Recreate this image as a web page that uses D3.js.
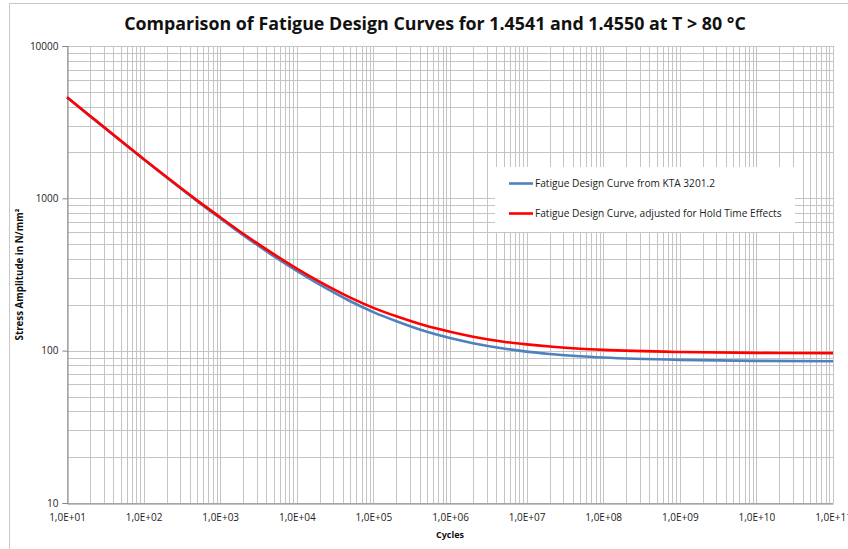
<!DOCTYPE html>
<html>
<head>
<meta charset="utf-8">
<script src="https://d3js.org/d3.v7.min.js"></script>
<style>
  body { margin: 0; background: #fff; }
  svg { display: block; font-family: "Open Sans", sans-serif; }
</style>
</head>
<body>
<div id="chart"></div>
<script>
  // values (cycles -> stress amplitude in N/mm²)
  const cycles = [1e1, 2e1, 5e1, 1e2, 2e2, 5e2, 1e3, 2e3, 5e3, 1e4, 2e4, 5e4, 1e5, 2e5, 5e5, 1e6, 2e6, 5e6, 1e7, 2e7, 5e7, 1e8, 1e9, 1e10, 1e11];
  const ktaCurve = [4600, 3465, 2385, 1803, 1369, 959, 740, 573, 417, 334, 271, 211, 179, 156, 133, 121, 112, 103.3, 98.6, 95.2, 91.9, 90.2, 87, 85.7, 85.3];
  const holdTimeCurve = [4611, 3476, 2396, 1814, 1380, 970, 752, 585, 430, 346, 283, 223, 191, 168, 145, 133, 123.5, 114.5, 110, 106.5, 103, 101.2, 98, 96.7, 96.3];

  const xTicks = [1e1, 1e2, 1e3, 1e4, 1e5, 1e6, 1e7, 1e8, 1e9, 1e10, 1e11];
  const xTickLabels = ["1,0E+01", "1,0E+02", "1,0E+03", "1,0E+04", "1,0E+05", "1,0E+06", "1,0E+07", "1,0E+08", "1,0E+09", "1,0E+10", "1,0E+11"];
  const yTicks = [10, 100, 1000, 10000];
  const seriesNames = ["Fatigue Design Curve from KTA 3201.2", "Fatigue Design Curve, adjusted for Hold Time Effects"];
  const seriesColors = ["#4f81bd", "#ff0000"];

  const width = 848, height = 549;

  const svg = d3.select("#chart").append("svg")
    .attr("width", width)
    .attr("height", height);

  // chart area border (runs off the right/bottom edge like the original)
  svg.append("rect")
    .attr("x", 9.5).attr("y", 3.5)
    .attr("width", 900).attr("height", 600)
    .attr("fill", "#fff")
    .attr("stroke", "#c8c8c8");

  const x = d3.scaleLog().domain([1e1, 1e11]).range([67, 833]);
  const y = d3.scaleLog().domain([10, 10000]).range([503, 46]);

  // grid lines (major + minor 2..9 per decade)
  const xGrid = [], yGrid = [];
  for (let e = 1; e <= 11; e++) {
    for (let m = 1; m <= 9; m++) {
      const v = m * Math.pow(10, e);
      if (v <= 1e11) xGrid.push(v);
    }
  }
  for (let e = 1; e <= 4; e++) {
    for (let m = 1; m <= 9; m++) {
      const v = m * Math.pow(10, e);
      if (v <= 10000) yGrid.push(v);
    }
  }

  const grid = svg.append("g").attr("shape-rendering", "crispEdges");
  grid.selectAll("line.gx").data(xGrid).enter().append("line")
    .attr("x1", d => Math.round(x(d)) + 0.5).attr("x2", d => Math.round(x(d)) + 0.5)
    .attr("y1", y(10000)).attr("y2", y(10))
    .attr("stroke", "#c4c4c4");
  grid.selectAll("line.gy").data(yGrid).enter().append("line")
    .attr("y1", d => Math.round(y(d)) + 0.5).attr("y2", d => Math.round(y(d)) + 0.5)
    .attr("x1", x(1e1)).attr("x2", x(1e11))
    .attr("stroke", "#c4c4c4");

  // axes
  const yAxis = svg.append("g")
    .attr("transform", `translate(${Math.round(x(1e1)) + 0.5},0)`)
    .call(d3.axisLeft(y).tickValues(yTicks).tickFormat(d3.format("d")).tickSize(5).tickPadding(4));
  yAxis.select(".domain").attr("stroke", "#868686");
  yAxis.selectAll(".tick line").attr("stroke", "#868686");
  yAxis.selectAll("text").attr("font-size", 10).attr("fill", "#222").attr("font-family", "Open Sans");

  const xAxis = svg.append("g")
    .attr("transform", `translate(0,${Math.round(y(10)) + 0.5})`)
    .call(d3.axisBottom(x).tickValues(xTicks).tickFormat((d, i) => xTickLabels[i]).tickSize(0).tickPadding(10));
  xAxis.select(".domain").attr("stroke", "#868686");
  xAxis.selectAll("text").attr("font-size", 10).attr("fill", "#222").attr("font-family", "Open Sans");

  // curves
  const line = d3.line()
    .x(d => x(d[0]))
    .y(d => y(d[1]))
    .curve(d3.curveMonotoneX);

  [ktaCurve, holdTimeCurve].forEach((vals, i) => {
    svg.append("path")
      .datum(cycles.map((c, j) => [c, vals[j]]))
      .attr("fill", "none")
      .attr("stroke", seriesColors[i])
      .attr("stroke-width", 2.6)
      .attr("d", line);
  });

  // helper: scale font so text has a given width
  function fitWidth(sel, w) {
    const len = sel.node().getComputedTextLength();
    const fs = parseFloat(sel.attr("font-size"));
    sel.attr("font-size", fs * w / len);
    return fs * w / len;
  }

  // legend
  const legend = svg.append("g");
  legend.append("rect")
    .attr("x", 495).attr("y", 167)
    .attr("width", 300).attr("height", 65)
    .attr("fill", "#fff");
  const legendY = [183.5, 213.5];
  const legTexts = seriesNames.map((name, i) => {
    legend.append("line")
      .attr("x1", 509).attr("x2", 533)
      .attr("y1", legendY[i]).attr("y2", legendY[i])
      .attr("stroke", seriesColors[i])
      .attr("stroke-width", 2.6);
    return legend.append("text")
      .attr("x", 535).attr("y", legendY[i])
      .attr("dy", "0.35em")
      .attr("font-size", 10)
      .attr("fill", "#222")
      .text(name);
  });
  const legSize = fitWidth(legTexts[1], 247);
  legTexts[0].attr("font-size", legSize);

  // title
  const title = svg.append("text")
    .attr("x", 435).attr("y", 30)
    .attr("text-anchor", "middle")
    .attr("font-weight", "bold")
    .attr("font-size", 18)
    .attr("fill", "#111")
    .text("Comparison of Fatigue Design Curves for 1.4541 and 1.4550 at T > 80 °C");
  fitWidth(title, 622);

  // axis titles
  const yTitle = svg.append("text")
    .attr("transform", "translate(20,274.5) rotate(-90)")
    .attr("text-anchor", "middle")
    .attr("dy", "0.35em")
    .attr("font-weight", "bold")
    .attr("font-size", 9)
    .attr("fill", "#111")
    .text("Stress Amplitude in N/mm²");
  fitWidth(yTitle, 132);

  svg.append("text")
    .attr("x", 450).attr("y", 535)
    .attr("text-anchor", "middle")
    .attr("dy", "0.35em")
    .attr("font-weight", "bold")
    .attr("font-size", 9)
    .attr("fill", "#111")
    .text("Cycles");
</script>
</body>
</html>
